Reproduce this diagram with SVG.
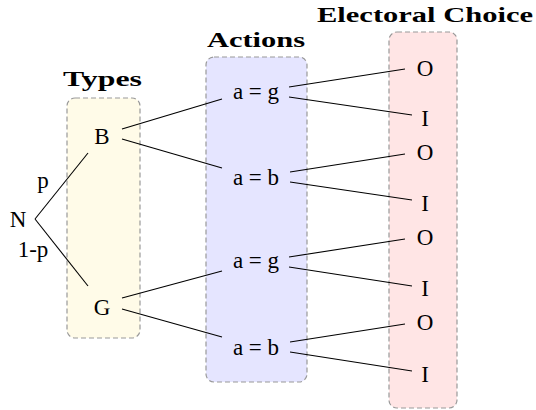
<svg xmlns="http://www.w3.org/2000/svg" width="536" height="410" viewBox="0 0 536 410">
<style>
.box{stroke:#999;stroke-width:1.2;stroke-dasharray:5 3}
.t{font-family:"Liberation Serif","DejaVu Serif",serif;font-size:23px;fill:#000;text-anchor:middle}
.h{font-family:"Liberation Serif","DejaVu Serif",serif;font-size:22px;font-weight:bold;fill:#000;text-anchor:middle}
.c line{stroke:#000;stroke-width:1.1}
</style>
<rect width="536" height="410" fill="#fff"/>
<g id="types">
<rect class="box" x="67" y="98" width="73" height="240" rx="8" fill="#fffbe8"/>
<text class="h" x="102.5" y="86" textLength="79" lengthAdjust="spacingAndGlyphs">Types</text>
</g>
<g id="actions">
<rect class="box" x="206" y="57" width="101" height="325" rx="8" fill="#e5e5ff"/>
<text class="h" x="256" y="47" textLength="98" lengthAdjust="spacingAndGlyphs">Actions</text>
</g>
<g id="choices">
<rect class="box" x="389" y="32" width="68" height="376" rx="8" fill="#ffe5e5"/>
<text class="h" x="425" y="22" textLength="216" lengthAdjust="spacingAndGlyphs">Electoral Choice</text>
</g>
<g class="c" id="connectors">
<line x1="35" y1="219" x2="88" y2="153"/>
<line x1="35" y1="219" x2="88" y2="286"/>
<line x1="122" y1="129" x2="222" y2="99"/>
<line x1="122" y1="139" x2="222" y2="168"/>
<line x1="122" y1="298" x2="222" y2="271"/>
<line x1="122" y1="309" x2="222" y2="337"/>
<line x1="289" y1="87" x2="405" y2="69"/>
<line x1="289" y1="97" x2="412" y2="115"/>
<line x1="290" y1="172" x2="405" y2="154"/>
<line x1="290" y1="182" x2="412" y2="200"/>
<line x1="289" y1="257" x2="405" y2="239"/>
<line x1="289" y1="267" x2="412" y2="286"/>
<line x1="290" y1="342" x2="405" y2="324"/>
<line x1="290" y1="352" x2="412" y2="371"/>
</g>
<g id="N"><text class="t" x="18" y="227">N</text></g>
<g id="p"><text class="t" x="43" y="188">p</text></g>
<g id="1-p"><text class="t" x="33" y="257">1-p</text></g>
<g id="B"><text class="t" x="102" y="144">B</text></g>
<g id="G"><text class="t" x="102" y="315">G</text></g>
<g id="ag1"><text class="t" x="256" y="99" textLength="46" lengthAdjust="spacing">a=g</text></g>
<g id="ab1"><text class="t" x="256" y="185" textLength="46" lengthAdjust="spacing">a=b</text></g>
<g id="ag2"><text class="t" x="256" y="268" textLength="46" lengthAdjust="spacing">a=g</text></g>
<g id="ab2"><text class="t" x="256" y="355" textLength="46" lengthAdjust="spacing">a=b</text></g>
<g id="O1"><text class="t" x="425" y="76">O</text></g>
<g id="I1"><text class="t" x="425" y="126">I</text></g>
<g id="O2"><text class="t" x="425" y="160">O</text></g>
<g id="I2"><text class="t" x="425" y="211">I</text></g>
<g id="O3"><text class="t" x="425" y="245">O</text></g>
<g id="I3"><text class="t" x="425" y="296">I</text></g>
<g id="O4"><text class="t" x="425" y="330">O</text></g>
<g id="I4"><text class="t" x="425" y="382">I</text></g>
</svg>
